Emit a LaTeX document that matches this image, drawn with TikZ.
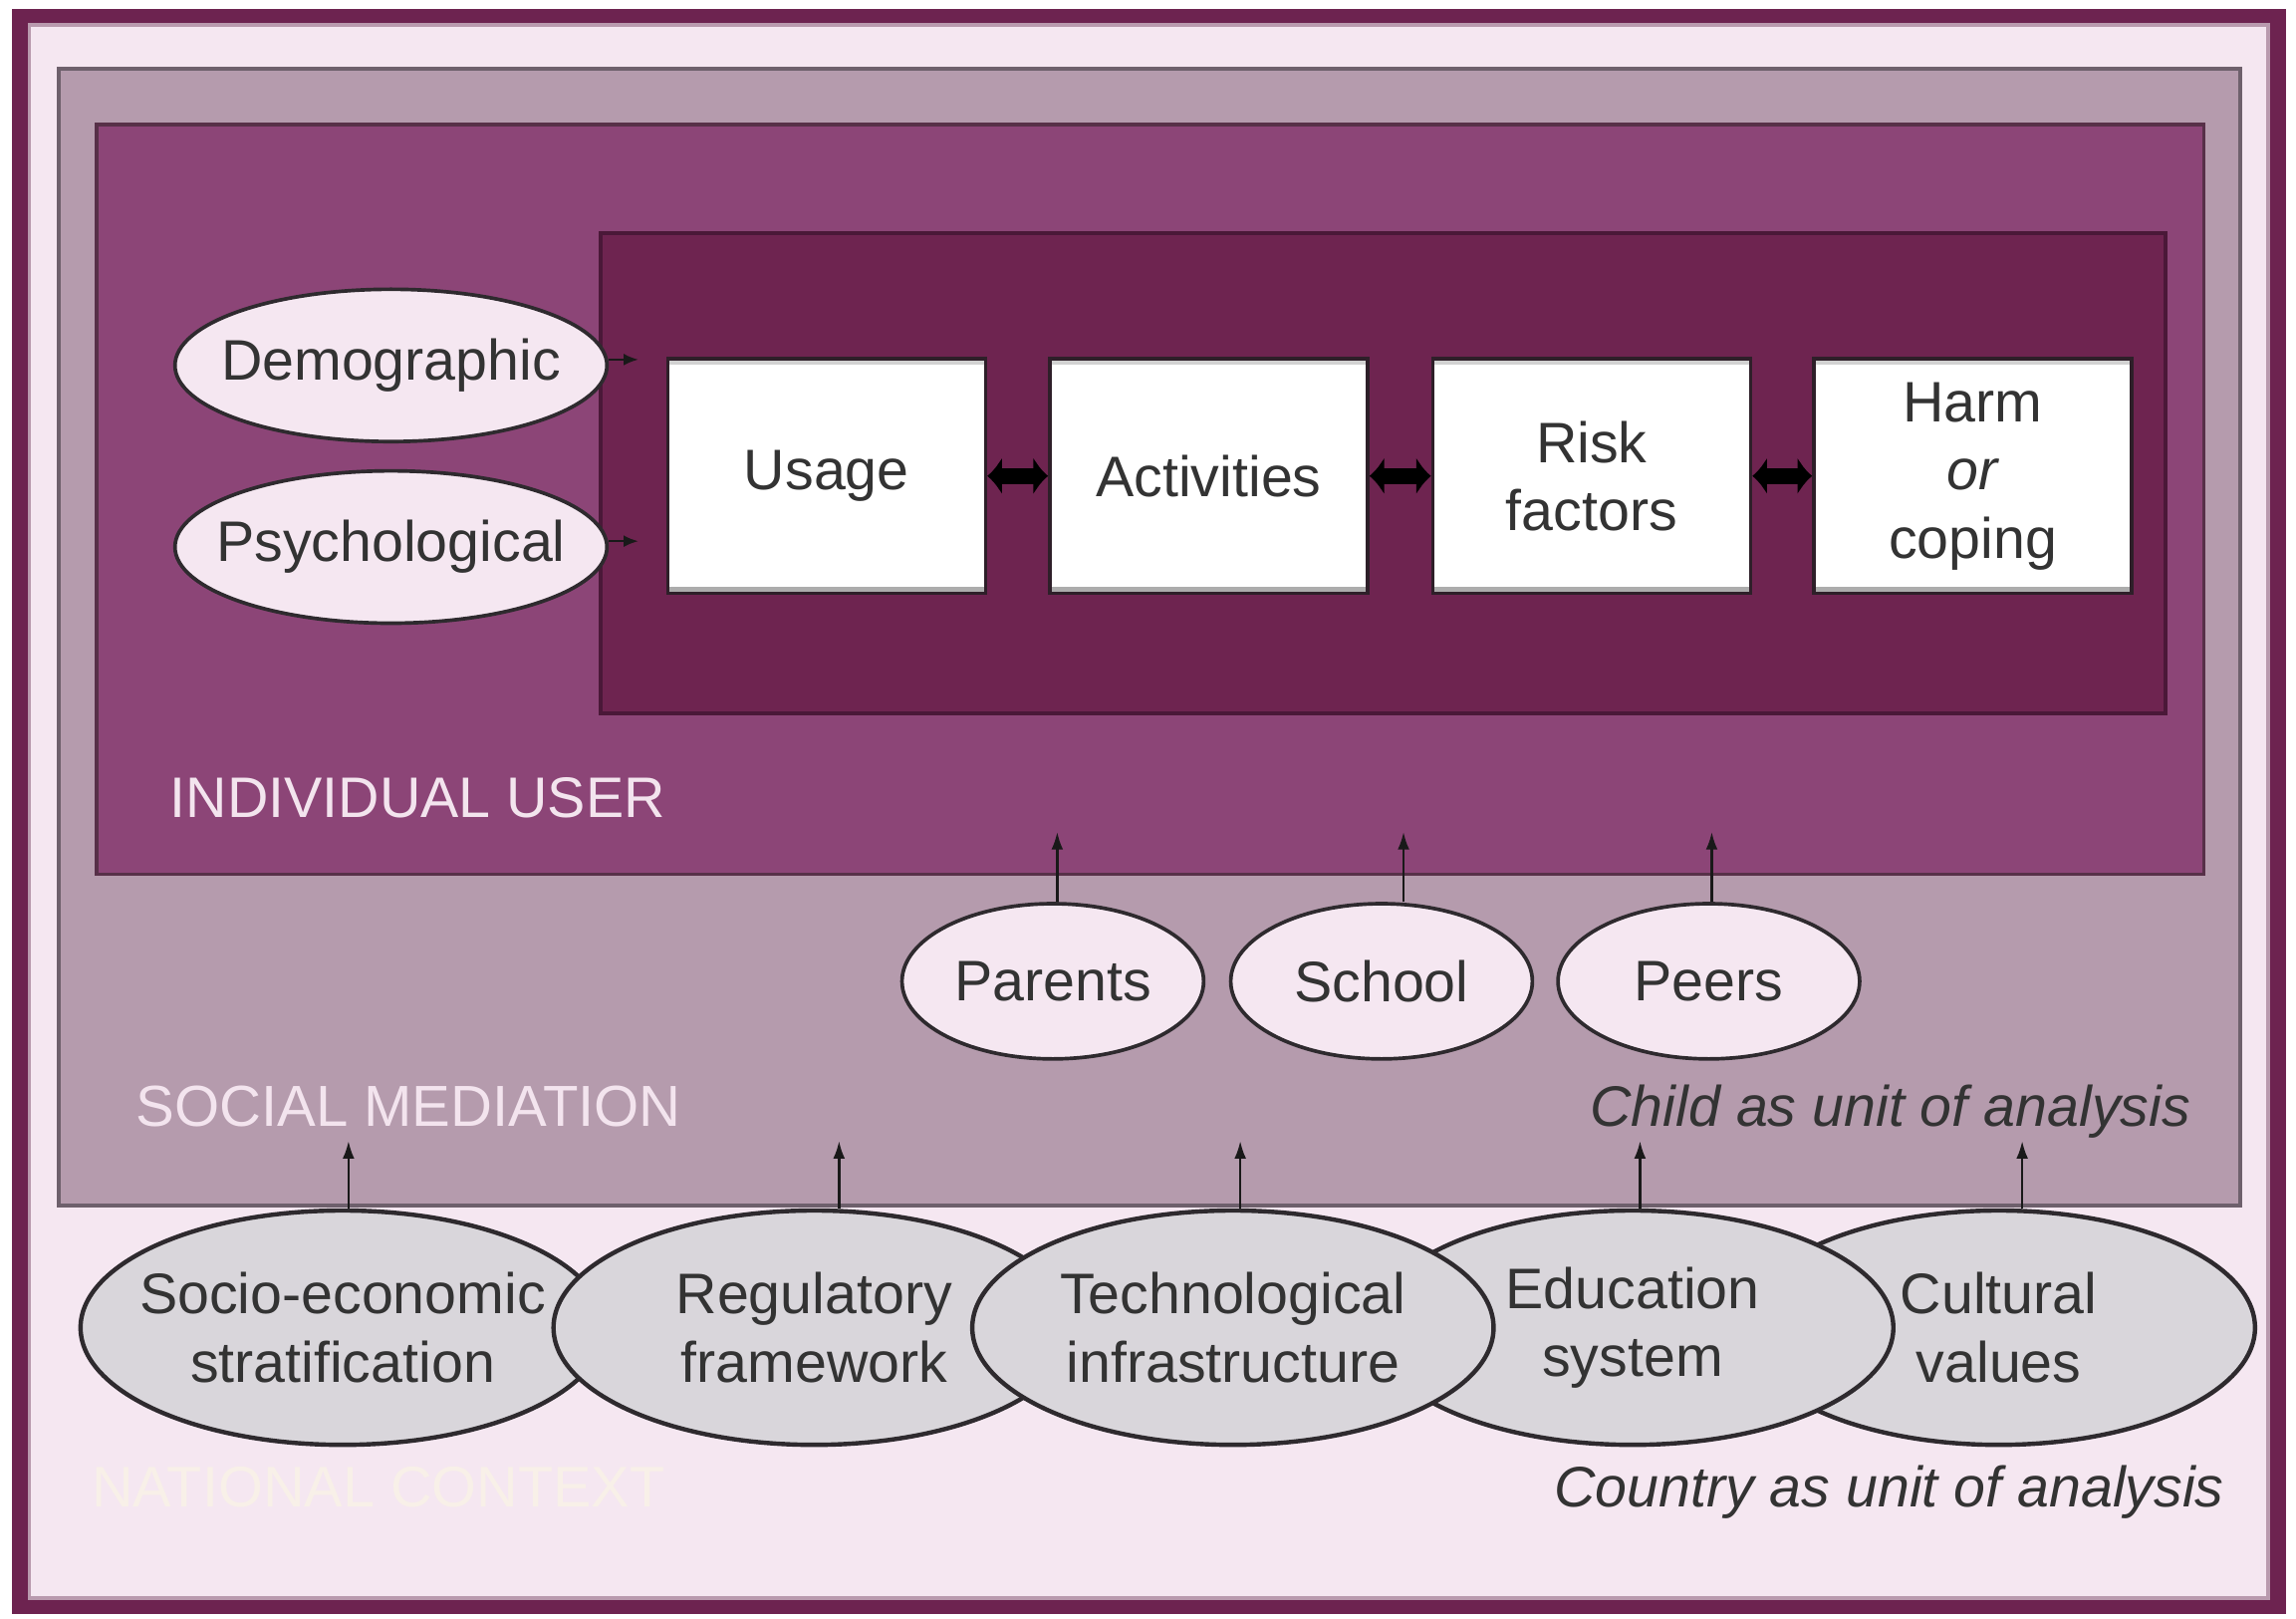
\documentclass[tikz,border=0pt]{standalone}
\usepackage{fontspec}
\setmainfont{Liberation Sans}
\usetikzlibrary{shapes.geometric,arrows.meta}
\definecolor{frameDark}{HTML}{6D2350}
\definecolor{frameLine}{HTML}{B99AAE}
\definecolor{paleBg}{HTML}{F5E7F1}
\definecolor{socialFill}{HTML}{B59BAD}
\definecolor{socialLine}{HTML}{6E606C}
\definecolor{indivFill}{HTML}{8C4577}
\definecolor{indivLine}{HTML}{573048}
\definecolor{innerFill}{HTML}{6E2450}
\definecolor{innerLine}{HTML}{4A1838}
\definecolor{lightEll}{HTML}{F5E7F1}
\definecolor{grayEll}{HTML}{D9D6DB}
\definecolor{txtCol}{HTML}{333333}
\definecolor{ellLine}{HTML}{2E2A2E}
\definecolor{boxLine}{HTML}{2E1F29}
\definecolor{lblWhite}{HTML}{F3E4EE}
\definecolor{natCol}{HTML}{F8F0E8}
\begin{document}
\begin{tikzpicture}[x=1pt,y=-1pt,
  bigfont/.style={font=\fontsize{39}{46.6}\selectfont},
  stagebox/.style={rectangle, fill=white, draw=boxLine, line width=2.5pt,
    minimum width=217pt, minimum height=160pt, inner sep=0pt, align=center,
    bigfont, text=txtCol,
    path picture={
      \fill[gray!35] (path picture bounding box.north west) rectangle ([yshift=-4pt]path picture bounding box.north east);
      \fill[gray!65] (path picture bounding box.south west) rectangle ([yshift=4pt]path picture bounding box.south east);
    }},
  lightoval/.style={ellipse, fill=lightEll, draw=ellLine, line width=2.5pt,
    inner xsep=-40pt, inner ysep=0pt, bigfont, text=txtCol, align=center},
  grayoval/.style={ellipse, fill=grayEll, draw=ellLine, line width=3pt,
    minimum width=356pt, minimum height=160pt,
    inner xsep=-40pt, inner ysep=0pt, bigfont, text=txtCol, align=center},
  dblarrow/.style={{Latex[length=10pt,width=26pt]}-{Latex[length=10pt,width=26pt]}, line width=11pt, black},
  sarrow/.style={-{Latex[length=10pt,width=8pt]}, line width=1.6pt, black!90},
  uarrow/.style={-{Latex[length=12pt,width=8pt]}, line width=1.6pt, black!90},
  lbl/.style={inner sep=0pt, bigfont}
]
\useasboundingbox (0,0) rectangle (1568,1105.4);
% outer frame
\fill[white] (0,0) rectangle (1568,1105.4);
\fill[frameDark] (8,6) rectangle (1561,1102);
\draw[fill=paleBg, draw=frameLine, line width=2.5pt] (20,17) rectangle (1549,1091);
% social mediation
\draw[fill=socialFill, draw=socialLine, line width=2.5pt] (40,47) rectangle (1530,823);
% individual user
\draw[fill=indivFill, draw=indivLine, line width=2.5pt] (66,85) rectangle (1505,597);
% inner process area
\draw[fill=innerFill, draw=innerLine, line width=2.5pt] (410,159) rectangle (1479,487);

% process boxes
\node[stagebox] (usage) at (564.5,325) {Usage};
\node[stagebox] (activ) at (825.5,325) {Activities};
\node[stagebox] (risk)  at (1087,325) {Risk\\factors};
\node[stagebox] (harm)  at (1347.3,325) {Harm\\\textit{or}\\coping};
\draw[dblarrow] (usage.east) -- (activ.west);
\draw[dblarrow] (activ.east) -- (risk.west);
\draw[dblarrow] (risk.east) -- (harm.west);

% individual factors
\node[lightoval, minimum width=295pt, minimum height=104pt] (demog) at (267,249.5) {Demographic};
\node[lightoval, minimum width=295pt, minimum height=104pt] (psych) at (267,373.5) {Psychological};
\coordinate (dtip) at (436,245.5);
\coordinate (ptip) at (436,369.5);
\draw[sarrow] (demog.east |- dtip) -- (dtip);
\draw[sarrow] (psych.east |- ptip) -- (ptip);

\node[lbl, anchor=base west, text=lblWhite] (indivlbl) at (116,558) {INDIVIDUAL USER};

% social mediation ovals
\node[lightoval, minimum width=206pt, minimum height=106pt] (parents) at (719,670) {Parents};
\node[lightoval, minimum width=206pt, minimum height=106pt] (school) at (943.5,670) {School};
\node[lightoval, minimum width=206pt, minimum height=106pt] (peers) at (1167,670) {Peers};
\coordinate (pa) at (722,568);
\coordinate (sc) at (958.5,568);
\coordinate (pe) at (1169,568);
\draw[uarrow] (parents.north -| pa) -- (pa);
\draw[uarrow] (school.north -| sc) -- (sc);
\draw[uarrow] (peers.north -| pe) -- (pe);

\node[lbl, anchor=base west, text=lblWhite, font=\fontsize{39.5}{46}\selectfont] (soclbl) at (92.6,768.7) {SOCIAL MEDIATION};
\node[lbl, anchor=base east, text=txtCol] (childlbl) at (1496,768.7) {\itshape Child as unit of analysis};

% national context ovals
\node[grayoval, minimum width=358pt] (socio) at (234,906.5) {Socio-economic\\stratification};
\node[grayoval, minimum width=356pt] (regul) at (556,906.5) {Regulatory\\framework};
\node[grayoval, minimum width=350pt] (cultur) at (1365,906.5) {Cultural\\values};
\node[grayoval, minimum width=356pt] (educ) at (1115,906.5) {Education\\system};
\node[grayoval, minimum width=356pt] (techn) at (842,906.5) {Technological\\infrastructure};
\coordinate (a1) at (238,779);
\coordinate (a2) at (573,779);
\coordinate (a3) at (847,779);
\coordinate (a4) at (1120,779);
\coordinate (a5) at (1381,779);
\draw[uarrow] (socio.north -| a1) -- (a1);
\draw[uarrow] (regul.north -| a2) -- (a2);
\draw[uarrow] (techn.north -| a3) -- (a3);
\draw[uarrow] (educ.north -| a4) -- (a4);
\draw[uarrow] (cultur.north -| a5) -- (a5);

\node[lbl, anchor=base west, text=natCol, font=\fontsize{39.2}{46}\selectfont] (natlbl) at (62.5,1028.6) {NATIONAL CONTEXT};
\node[lbl, anchor=base east, text=txtCol] (countrylbl) at (1519,1028.6) {\itshape Country as unit of analysis};
\end{tikzpicture}
\end{document}
